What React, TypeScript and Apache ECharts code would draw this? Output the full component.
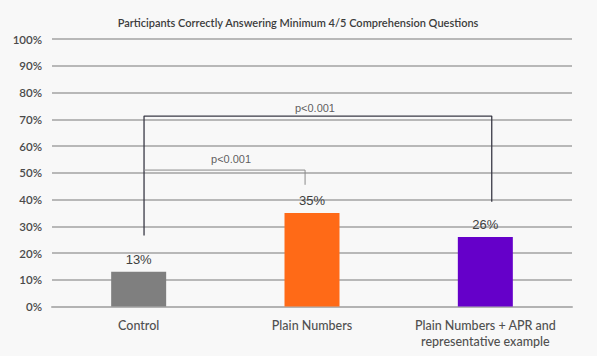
import React, { useEffect, useRef } from "react";
import * as echarts from "echarts";

const categories = ["Control", "Plain Numbers", "Plain Numbers + APR and\nrepresentative example"];
const values = [13, 35, 26];
const barColors = ["#7f7f7f", "#ff6a17", "#6500c9"];
const yTicks = [0, 10, 20, 30, 40, 50, 60, 70, 80, 90, 100];
const title = "Participants Correctly Answering Minimum 4/5 Comprehension Questions";
// bracket annotations in (band position 0..3, percent) space
const outerBracket = [[0.531, 26.5], [0.531, 71.2], [2.537, 71.2], [2.537, 39.2]];
const innerBracket = [[0.531, 51.0], [1.46, 51.0], [1.46, 45.5]];
const pLabels = [
  { pos: [1.517, 74.2], text: "p<0.001" },
  { pos: [1.033, 55.2], text: "p<0.001" },
];

const FONT = "Lato, 'Noto Sans', sans-serif";

export default function App() {
  const ref = useRef<HTMLDivElement>(null);
  useEffect(() => {
    const chart = echarts.init(ref.current!, null, { renderer: "svg" });
    chart.setOption({
      animation: false,
      backgroundColor: "#f8f8f8",
      title: {
        text: title,
        left: 293,
        textAlign: "center",
        top: 12,
        textStyle: { fontFamily: FONT, fontSize: 11, fontWeight: 600, color: "#3c3c3c" },
      },
      grid: { left: 52, right: 25, top: 39, bottom: 49.5, containLabel: false },
      xAxis: [
        {
          type: "category",
          data: categories,
          axisTick: { show: false },
          axisLine: { lineStyle: { color: "#b3b3b3", width: 2 } },
          axisLabel: {
            interval: 0,
            fontFamily: FONT,
            fontSize: 12.5,
            color: "#505050",
            lineHeight: 16,
            margin: 11,
            fontWeight: 500,
          },
        },
        { type: "value", min: 0, max: 3, show: false },
      ],
      yAxis: {
        type: "value",
        min: 0,
        max: 100,
        interval: 10,
        axisLabel: {
          formatter: (v: number) => (yTicks.includes(v) ? v + "%" : ""),
          fontFamily: FONT,
          fontSize: 11.5,
          color: "#4a4a4a",
          margin: 10,
          fontWeight: 600,
        },
        splitLine: { lineStyle: { color: "#b8b8b8", width: 2 } },
        axisLine: { show: false },
        axisTick: { show: false },
      },
      series: [
        {
          type: "bar",
          barWidth: 55,
          data: values.map((v, i) => ({ value: v, itemStyle: { color: barColors[i] } })),
          label: {
            show: true,
            position: "top",
            distance: 6,
            formatter: "{c}%",
            fontFamily: "'Liberation Sans', Arial, sans-serif",
            fontSize: 13,
            color: "#404040",
          },
          z: 2,
        },
        {
          type: "line",
          xAxisIndex: 1,
          data: outerBracket,
          symbol: "none",
          lineStyle: { color: "#3a3a46", width: 1.3 },
          z: 5,
        },
        {
          type: "line",
          xAxisIndex: 1,
          data: innerBracket,
          symbol: "none",
          lineStyle: { color: "#8a8a8a", width: 1 },
          z: 5,
        },
        {
          type: "scatter",
          xAxisIndex: 1,
          symbolSize: 0,
          data: pLabels.map((p) => ({ value: p.pos, name: p.text })),
          label: {
            show: true,
            position: "inside",
            formatter: (p: any) => p.name,
            fontFamily: "'Liberation Sans', Arial, sans-serif",
            fontSize: 11,
            color: "#333333",
          },
          z: 6,
        },
      ],
    });
    return () => chart.dispose();
  }, []);
  return (
    <div
      ref={ref}
      style={{ position: "fixed", left: 0, top: 0, width: 597, height: 356 }}
    />
  );
}
